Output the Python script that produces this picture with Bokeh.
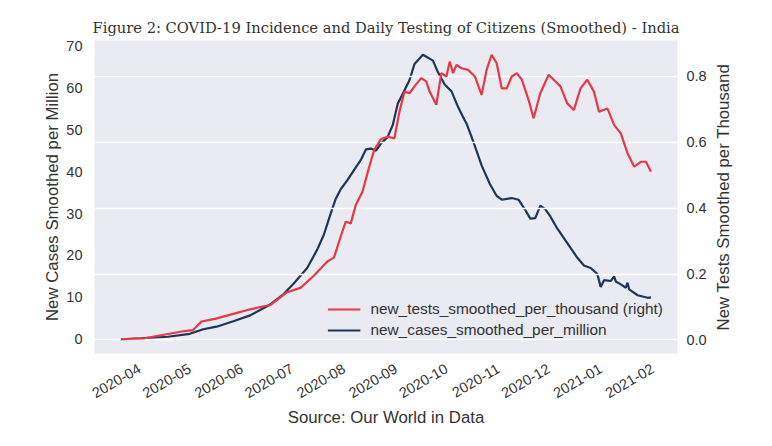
import math
import pandas as pd
from bokeh.plotting import figure
from bokeh.layouts import row
from bokeh.models import (Range1d, LinearAxis, FixedTicker, PrintfTickFormatter,
                          MonthsTicker, DatetimeTickFormatter, Grid, Legend, LegendItem,
                          ColumnDataSource, Label)
from bokeh.embed import file_html
from bokeh.resources import INLINE

# ---- data ----
case_dates = ["2020-03-21", "2020-04-02", "2020-04-18", "2020-05-01", "2020-05-09", "2020-05-17",
              "2020-05-27", "2020-06-06", "2020-06-18", "2020-06-26", "2020-07-02", "2020-07-10",
              "2020-07-16", "2020-07-20", "2020-07-24", "2020-07-27", "2020-07-30", "2020-08-03",
              "2020-08-07", "2020-08-11", "2020-08-14", "2020-08-17", "2020-08-20", "2020-08-23",
              "2020-08-27", "2020-08-30", "2020-09-02", "2020-09-05", "2020-09-09", "2020-09-12",
              "2020-09-17", "2020-09-23", "2020-09-26", "2020-09-30", "2020-10-04", "2020-10-08",
              "2020-10-11", "2020-10-13", "2020-10-17", "2020-10-22", "2020-10-27", "2020-10-31",
              "2020-11-03", "2020-11-09", "2020-11-13", "2020-11-17", "2020-11-20", "2020-11-23",
              "2020-11-26", "2020-11-29", "2020-12-02", "2020-12-06", "2020-12-12", "2020-12-18",
              "2020-12-22", "2020-12-26", "2020-12-30", "2021-01-01", "2021-01-03", "2021-01-07",
              "2021-01-09", "2021-01-10", "2021-01-13", "2021-01-16", "2021-01-17", "2021-01-18",
              "2021-01-23", "2021-01-29", "2021-01-31"]
new_cases_smoothed_per_million = [
    0.0, 0.2, 0.6, 1.3, 2.4, 3.0,
    4.3, 5.7, 8.3, 10.8, 13.3, 17.0,
    21.4, 25.0, 30.0, 33.5, 35.8, 38.0,
    40.4, 42.8, 45.3, 45.5, 45.0, 46.7,
    48.3, 51.1, 56.2, 58.6, 61.8, 65.7,
    67.9, 66.5, 63.7, 60.8, 59.2, 55.4,
    53.0, 51.5, 47.2, 41.5, 37.0, 34.2,
    33.3, 33.7, 33.3, 30.9, 28.8, 28.9,
    31.9, 31.0, 29.3, 26.5, 23.0, 19.5,
    17.6, 17.0, 15.6, 12.5, 14.1, 13.9,
    15.0, 13.8, 13.1, 12.3, 13.5, 11.9,
    10.5, 9.9, 10.0]

test_dates = ["2020-03-21", "2020-04-04", "2020-04-18", "2020-04-28", "2020-05-03", "2020-05-08",
              "2020-05-16", "2020-05-27", "2020-06-06", "2020-06-18", "2020-06-28", "2020-07-06",
              "2020-07-14", "2020-07-22", "2020-07-26", "2020-07-30", "2020-08-02", "2020-08-05",
              "2020-08-08", "2020-08-12", "2020-08-16", "2020-08-19", "2020-08-23", "2020-08-27",
              "2020-08-31", "2020-09-03", "2020-09-06", "2020-09-09", "2020-09-12", "2020-09-16",
              "2020-09-19", "2020-09-21", "2020-09-25", "2020-09-28", "2020-10-01", "2020-10-03",
              "2020-10-05", "2020-10-07", "2020-10-10", "2020-10-14", "2020-10-18", "2020-10-22",
              "2020-10-25", "2020-10-28", "2020-10-31", "2020-11-03", "2020-11-06", "2020-11-09",
              "2020-11-12", "2020-11-15", "2020-11-19", "2020-11-22", "2020-11-26", "2020-12-01",
              "2020-12-04", "2020-12-08", "2020-12-12", "2020-12-16", "2020-12-20", "2020-12-24",
              "2020-12-28", "2020-12-31", "2021-01-05", "2021-01-09", "2021-01-13", "2021-01-17",
              "2021-01-21", "2021-01-25", "2021-01-28", "2021-01-31"]
new_tests_smoothed_per_thousand = [
    0.002, 0.005, 0.018, 0.027, 0.030, 0.056,
    0.064, 0.079, 0.093, 0.106, 0.145, 0.158,
    0.195, 0.238, 0.250, 0.314, 0.359, 0.354,
    0.410, 0.450, 0.526, 0.577, 0.610, 0.617,
    0.612, 0.693, 0.754, 0.749, 0.770, 0.795,
    0.785, 0.754, 0.714, 0.810, 0.800, 0.845,
    0.810, 0.835, 0.825, 0.820, 0.800, 0.744,
    0.820, 0.866, 0.840, 0.764, 0.764, 0.800,
    0.810, 0.790, 0.729, 0.673, 0.749, 0.805,
    0.790, 0.770, 0.719, 0.698, 0.764, 0.790,
    0.754, 0.693, 0.703, 0.653, 0.627, 0.567,
    0.526, 0.541, 0.541, 0.511]

left_ticks = [0, 10, 20, 30, 40, 50, 60, 70]
right_ticks = [0.0, 0.2, 0.4, 0.6, 0.8]

title_text = "Figure 2: COVID-19 Incidence and Daily Testing of Citizens (Smoothed) - India"
left_label = "New Cases Smoothed per Million"
right_label = "New Tests Smoothed per Thousand"
x_label = "Source: Our World in Data"
tests_name = "new_tests_smoothed_per_thousand (right)"
cases_name = "new_cases_smoothed_per_million"

RED = "#e63946"
BLUE = "#1d3557"
TXT = "#333333"
SANS = "Liberation Sans"

cases_src = ColumnDataSource(dict(x=pd.to_datetime(case_dates), y=new_cases_smoothed_per_million))
tests_src = ColumnDataSource(dict(x=pd.to_datetime(test_dates), y=new_tests_smoothed_per_thousand))

# matplotlib-like 5% margins
all_x = pd.to_datetime(case_dates + test_dates)
x0, x1 = all_x.min(), all_x.max()
dx = (x1 - x0) * 0.05
cmin, cmax = min(new_cases_smoothed_per_million), max(new_cases_smoothed_per_million)
tmin, tmax = min(new_tests_smoothed_per_thousand), max(new_tests_smoothed_per_thousand)
dc = (cmax - cmin) * 0.05
dt = (tmax - tmin) * 0.05
r_lo, r_hi = tmin - dt, tmax + dt

H = 438
p = figure(width=709, height=H, x_axis_type="datetime",
           x_range=Range1d(x0 - dx, x1 + dx), y_range=Range1d(cmin - dc, cmax + dc),
           output_backend="svg", toolbar_location=None,
           min_border_left=94, min_border_right=32, min_border_top=40, min_border_bottom=85)
p.extra_y_ranges = {"right": Range1d(r_lo, r_hi)}

p.background_fill_color = "#EAEAF2"
p.border_fill_color = "white"
p.outline_line_color = None
p.xgrid.visible = False
p.ygrid.visible = False

p.title.text = title_text
p.title.align = "center"
p.title.text_font = "DejaVu Serif"
p.title.text_font_size = "14.7px"
p.title.text_font_style = "normal"
p.title.text_color = "#333333"

def style_axis(ax, size="14.5px"):
    ax.major_tick_line_color = None
    ax.minor_tick_line_color = None
    ax.major_tick_out = 0
    ax.major_tick_in = 0
    ax.minor_tick_out = 0
    ax.minor_tick_in = 0
    ax.axis_line_color = None
    ax.major_label_text_font = SANS
    ax.major_label_text_font_size = size
    ax.major_label_text_color = TXT
    ax.axis_label_text_font = SANS
    ax.axis_label_text_font_size = "16.8px"
    ax.axis_label_text_font_style = "normal"
    ax.axis_label_text_color = TXT

# x axis
xa = p.xaxis[0]
xa.ticker = MonthsTicker(months=list(range(12)))
xa.formatter = DatetimeTickFormatter(months="%Y-%m", days="%Y-%m", years="%Y-%m")
xa.major_label_orientation = math.pi / 6
xa.axis_label = x_label
style_axis(xa)
xa.major_label_standoff = 14
xa.axis_label_standoff = 2

# left axis
ya = p.yaxis[0]
ya.ticker = FixedTicker(ticks=left_ticks)
ya.axis_label = left_label
style_axis(ya)
ya.major_label_standoff = 12
ya.axis_label_standoff = 1

# right axis (ticks only; its title sits in the narrow strip figure beside it)
ra = LinearAxis(y_range_name="right", ticker=FixedTicker(ticks=right_ticks),
                formatter=PrintfTickFormatter(format="%.1f"))
style_axis(ra)
ra.major_label_standoff = 9
p.add_layout(ra, "right")

# lines: cases (left) under the grid, tests (right) above it
r_cases = p.line("x", "y", source=cases_src, color=BLUE, line_width=2.2)
grid = Grid(dimension=1, ticker=ra.ticker, y_range_name="right",
            grid_line_color="white", grid_line_width=1.4, level="guide")
p.add_layout(grid)
r_tests = p.line("x", "y", source=tests_src, color=RED, line_width=2.2,
                 y_range_name="right", level="annotation")

legend = Legend(items=[LegendItem(label=tests_name, renderers=[r_tests]),
                       LegendItem(label=cases_name, renderers=[r_cases])],
                location="bottom_right", margin=0, padding=14, spacing=3,
                glyph_width=33, glyph_height=18, label_height=18, label_standoff=10,
                label_text_font=SANS, label_text_font_size="15.4px", label_text_color=TXT,
                background_fill_alpha=0, border_line_alpha=0)
p.add_layout(legend, "center")

# narrow strip holding the right-hand axis title, reading bottom-to-top
strip_w = 55
p2 = figure(width=strip_w, height=H, x_range=Range1d(0, strip_w), y_range=Range1d(r_lo, r_hi),
            x_axis_location=None, y_axis_location=None,
            output_backend="svg", toolbar_location=None,
            min_border_left=0, min_border_right=0, min_border_top=40, min_border_bottom=85)
p2.grid.visible = False
p2.outline_line_color = None
p2.background_fill_color = "white"
p2.border_fill_color = "white"
p2.add_layout(Label(x=14, y=(r_lo + r_hi) / 2, text=right_label, angle=math.pi / 2,
                    text_align="center", text_baseline="middle",
                    text_font=SANS, text_font_size="16.8px", text_color=TXT))

layout = row(p, p2)
open("out.html", "w").write(file_html(layout, INLINE))
